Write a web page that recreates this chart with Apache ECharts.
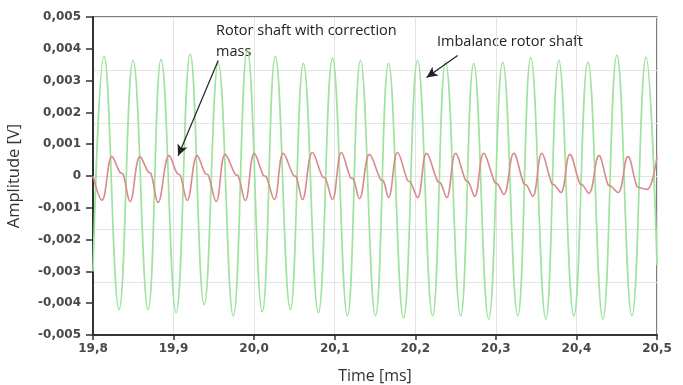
<!DOCTYPE html>
<html>
<head>
<meta charset="utf-8">
<script src="https://cdn.jsdelivr.net/npm/echarts@6/dist/echarts.min.js"></script>
<style>
html,body{margin:0;padding:0;background:#fff;}
#chart{width:683px;height:385px;}
</style>
</head>
<body>
<div id="chart"></div>
<script>
// Tick labels
const xTickLabels = ['19,8','19,9','20,0','20,1','20,2','20,3','20,4','20,5'];
const yTickLabels = ['-0,005','-0,004','-0,003','-0,002','-0,001','0','0,001','0,002','0,003','0,004','0,005'];

// Imbalance rotor shaft (green) - read at extrema, time [ms]
const imbalanceTime = [19.8000,19.8137,19.8323,19.8497,19.8684,19.8845,19.9032,19.9206,19.9380,19.9554,19.9741,19.9915,20.0101,20.0263,20.0449,20.0611,20.0797,20.0972,20.1158,20.1320,20.1506,20.1668,20.1854,20.2028,20.2215,20.2376,20.2563,20.2725,20.2911,20.3085,20.3272,20.3433,20.3620,20.3781,20.3968,20.4142,20.4328,20.4502,20.4689,20.4863,20.5000];
const imbalanceAmp = [-0.0030,0.00377,-0.0042,0.00364,-0.0042,0.00367,-0.0043,0.00383,-0.00405,0.00354,-0.0044,0.00395,-0.00427,0.00376,-0.0042,0.00354,-0.0043,0.0037,-0.0044,0.00364,-0.0044,0.00354,-0.00446,0.00364,-0.0044,0.0036,-0.0044,0.00354,-0.0045,0.00358,-0.0044,0.00373,-0.0045,0.00364,-0.0044,0.00358,-0.0045,0.0038,-0.0044,0.00373,-0.0028];

// Rotor shaft with correction mass (red)
const correctedTime = [19.8000,19.8112,19.8236,19.8336,19.8373,19.8460,19.8584,19.8684,19.8721,19.8808,19.8945,19.9044,19.9082,19.9169,19.9293,19.9392,19.9430,19.9529,19.9641,19.9766,19.9803,19.9890,20.0002,20.0114,20.0151,20.0250,20.0362,20.0487,20.0524,20.0599,20.0723,20.0847,20.0885,20.0972,20.1083,20.1195,20.1233,20.1307,20.1432,20.1568,20.1606,20.1668,20.1780,20.1904,20.1941,20.2028,20.2140,20.2277,20.2314,20.2389,20.2501,20.2625,20.2662,20.2737,20.2849,20.2986,20.3023,20.3098,20.3222,20.3346,20.3384,20.3458,20.3570,20.3694,20.3732,20.3806,20.3918,20.4042,20.4080,20.4154,20.4279,20.4391,20.4428,20.4515,20.4639,20.4751,20.4788,20.4875,20.5000];
const correctedAmp = [0.0000,-0.00076,0.00061,0.00011,0.00006,-0.00080,0.00061,0.00013,0.00007,-0.00083,0.00064,0.00008,0.00003,-0.00077,0.00064,0.00008,0.00003,-0.00080,0.00068,0.00005,0.00000,-0.00077,0.00071,0.00002,-0.00003,-0.00074,0.00071,0.00002,-0.00003,-0.00074,0.00074,-0.00002,-0.00007,-0.00074,0.00074,-0.00005,-0.0001,-0.00071,0.00068,-0.00011,-0.00016,-0.00068,0.00074,-0.00014,-0.00019,-0.00068,0.00071,-0.00017,-0.00022,-0.00068,0.00071,-0.00014,-0.00019,-0.00064,0.00071,-0.0002,-0.00025,-0.00058,0.00071,-0.00024,-0.00029,-0.00064,0.00071,-0.00024,-0.00029,-0.00052,0.00068,-0.00024,-0.00029,-0.00055,0.00064,-0.00027,-0.00032,-0.00052,0.00061,-0.00033,-0.00037,-0.00042,0.00061];

// Annotation arrows (data units): [startTime, startAmp, endTime, endAmp]
const arrowCorrected = [19.9554, 0.00363, 19.9057, 0.00064];
const arrowImbalance = [20.2526, 0.00379, 20.2140, 0.0031];

const zip = (a, b) => a.map((v, i) => [v, b[i]]);
const FONT = '"Open Sans", "Noto Sans", sans-serif';
const TICKFONT = '"DejaVu Sans", sans-serif';

const chart = echarts.init(document.getElementById('chart'), null, {renderer: 'canvas'});
chart.setOption({
  animation: false,
  backgroundColor: '#fff',
  grid: {left: 93, right: 26, top: 17, bottom: 50, show: true, borderColor: '#555', borderWidth: 1.5,
    backgroundColor: 'transparent', containLabel: false, outerBoundsMode: 'none'},
  xAxis: {
    type: 'value', min: 19.8, max: 20.5, interval: 0.1,
    name: 'Time [ms]', nameLocation: 'middle', nameGap: 33,
    nameTextStyle: {fontFamily: FONT, fontSize: 16, color: '#333'},
    axisLine: {onZero: false, lineStyle: {color: '#333', width: 2}},
    axisTick: {show: true, length: 5, lineStyle: {color: '#333', width: 1.5}},
    axisLabel: {fontFamily: TICKFONT, fontSize: 12, fontWeight: 'bold', color: '#484848', margin: 8,
      formatter: v => xTickLabels[Math.round((v - 19.8) / 0.1)]},
    splitLine: {show: true, lineStyle: {color: '#e3e3e3', width: 1}}
  },
  yAxis: [{
    type: 'value', min: -0.005, max: 0.005, interval: 0.001,
    name: 'Amplitude [V]', nameLocation: 'middle', nameGap: 70, nameRotate: 90,
    nameTextStyle: {fontFamily: FONT, fontSize: 16.5, color: '#333'},
    axisLine: {show: true, lineStyle: {color: '#333', width: 2}},
    axisTick: {show: true, length: 7, lineStyle: {color: '#333', width: 1.5}},
    axisLabel: {fontFamily: TICKFONT, fontSize: 12, fontWeight: 'bold', color: '#484848', margin: 12,
      formatter: v => yTickLabels[Math.round((v + 0.005) / 0.001)]},
    splitLine: {show: false}
  }, {
    type: 'value', min: -0.006, max: 0.006, interval: 0.002, position: 'left',
    axisLine: {show: false}, axisTick: {show: false}, axisLabel: {show: false},
    splitLine: {show: true, lineStyle: {color: '#e3e3e3', width: 1}}
  }],
  series: [{
    name: 'Imbalance rotor shaft', type: 'line', smooth: 0.45, symbol: 'none',
    data: zip(imbalanceTime, imbalanceAmp),
    lineStyle: {color: '#9fe39f', width: 1.7}, z: 2
  }, {
    name: 'Rotor shaft with correction mass', type: 'line', smooth: 0.4, symbol: 'none',
    data: zip(correctedTime, correctedAmp),
    lineStyle: {color: '#d98a8a', width: 1.6}, z: 3,
    markLine: {
      silent: true, symbol: ['none', 'arrow'], symbolSize: [8, 11],
      label: {show: false},
      lineStyle: {color: '#222', width: 1.2, type: 'solid'},
      data: [
        [{coord: [arrowCorrected[0], arrowCorrected[1]]}, {coord: [arrowCorrected[2], arrowCorrected[3]]}],
        [{coord: [arrowImbalance[0], arrowImbalance[1]]}, {coord: [arrowImbalance[2], arrowImbalance[3]]}]
      ]
    }
  }],
  graphic: [
    {type: 'text', left: 216, top: 20, style: {text: 'Rotor shaft with correction\nmass', font: '14.5px ' + FONT, fill: '#222', lineHeight: 21}},
    {type: 'text', left: 437, top: 34, style: {text: 'Imbalance rotor shaft', font: '14.5px ' + FONT, fill: '#222'}}
  ]
});
</script>
</body>
</html>
